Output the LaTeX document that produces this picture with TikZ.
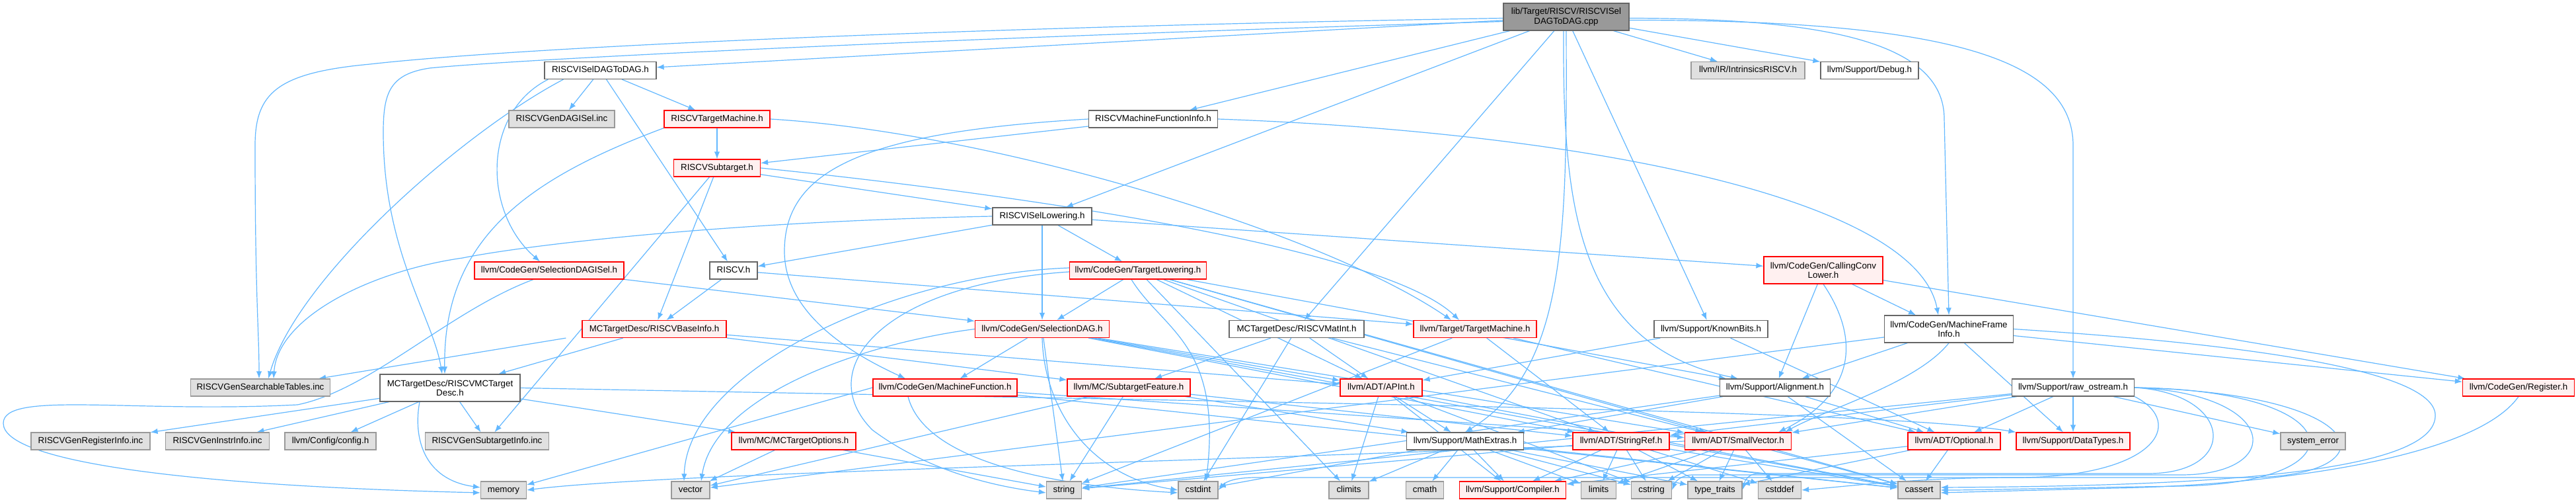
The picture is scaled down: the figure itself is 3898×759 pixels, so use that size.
\documentclass[tikz,border=0pt]{standalone}
\usepackage{fontspec}
\setmainfont{Liberation Sans}
\usetikzlibrary{arrows.meta}
\definecolor{edgec}{HTML}{63B8FF}
\definecolor{grayfill}{HTML}{E0E0E0}
\definecolor{grayline}{HTML}{999999}
\definecolor{nodeline}{HTML}{666666}
\definecolor{redfill}{HTML}{FFF0F0}
\definecolor{rootfill}{HTML}{999999}
\pgfdeclarelayer{bg}
\pgfsetlayers{bg,main}
\tikzset{
 nb0/.style={rectangle, line width=0.6pt, inner xsep=0pt, inner ysep=0pt, font=\fontsize{6.67pt}{7.15pt}\selectfont},
 nb1/.style={nb0, minimum height=13pt, text height=4.9pt, text depth=1.4pt},
 nb2/.style={nb0, minimum height=20.5pt, align=center},
 wn/.style={nb1, draw=nodeline, fill=white},
 wn2/.style={nb2, draw=nodeline, fill=white},
 rn/.style={nb1, draw=red, fill=redfill},
 rn2/.style={nb2, draw=red, fill=redfill},
 gn/.style={nb1, draw=grayline, fill=grayfill},
 rootn/.style={nb2, draw=nodeline, fill=rootfill},
 ed/.style={draw=edgec, line width=0.6pt, -{Latex[length=5.5pt,width=4.2pt]}},
}
\begin{document}
\begin{tikzpicture}[x=0.5pt,y=-0.5pt]
\useasboundingbox (0,0) rectangle (3898,759);
% nodes
\node[rootn, minimum width=95pt] (root) at (2370,25.5) {lib/Target/RISCV/RISCVISel\\DAGToDAG.cpp};
\node[wn, minimum width=84.5pt] (dagh) at (908.5,106.5) {RISCVISelDAGToDAG.h};
\node[gn, minimum width=86pt] (intr) at (2645,106.5) {llvm/IR/IntrinsicsRISCV.h};
\node[wn, minimum width=74pt] (debug) at (2829,106.5) {llvm/Support/Debug.h};
\node[gn, minimum width=80pt] (gendag) at (850,180) {RISCVGenDAGISel.inc};
\node[rn, minimum width=80pt] (rtm) at (1085,180) {RISCVTargetMachine.h};
\node[wn, minimum width=97.5pt] (rmfi) at (1745,180) {RISCVMachineFunctionInfo.h};
\node[rn, minimum width=65.5pt] (rsub) at (1085,254) {RISCVSubtarget.h};
\node[wn, minimum width=75pt] (risl) at (1577,327) {RISCVISelLowering.h};
\node[rn, minimum width=113pt] (sdagisel) at (831,409) {llvm/CodeGen/SelectionDAGISel.h};
\node[wn, minimum width=36pt] (riscvh) at (1110,409) {RISCV.h};
\node[rn, minimum width=103.5pt] (tl) at (1722,409) {llvm/CodeGen/TargetLowering.h};
\node[rn2, minimum width=90pt] (ccl) at (2759,408.5) {llvm/CodeGen/CallingConv\\Lower.h};
\node[rn, minimum width=109pt] (binfo) at (990,497.5) {MCTargetDesc/RISCVBaseInfo.h};
\node[rn, minimum width=101.5pt] (sdag) at (1577,497.5) {llvm/CodeGen/SelectionDAG.h};
\node[wn, minimum width=102pt] (matint) at (1962,497.5) {MCTargetDesc/RISCVMatInt.h};
\node[rn, minimum width=93pt] (tmach) at (2232,497.5) {llvm/Target/TargetMachine.h};
\node[wn, minimum width=86pt] (kb) at (2589,497.5) {llvm/Support/KnownBits.h};
\node[wn2, minimum width=97.5pt] (mfi) at (2949,497.5) {llvm/CodeGen/MachineFrame\\Info.h};
\node[gn, minimum width=105.5pt] (gst) at (394,586) {RISCVGenSearchableTables.inc};
\node[wn2, minimum width=106pt] (mctd) at (681,586.5) {MCTargetDesc/RISCVMCTarget\\Desc.h};
\node[rn, minimum width=109pt] (mfunc) at (1430,586) {llvm/CodeGen/MachineFunction.h};
\node[rn, minimum width=93pt] (stf) at (1708,586) {llvm/MC/SubtargetFeature.h};
\node[rn, minimum width=62pt] (apint) at (2090,586) {llvm/ADT/APInt.h};
\node[wn, minimum width=83.5pt] (align) at (2686,586) {llvm/Support/Alignment.h};
\node[wn, minimum width=92.5pt] (ro) at (3137,586) {llvm/Support/raw\_ostream.h};
\node[rn, minimum width=84.5pt] (reg) at (3811,586) {llvm/CodeGen/Register.h};
\node[gn, minimum width=90pt] (gri) at (137,667) {RISCVGenRegisterInfo.inc};
\node[gn, minimum width=78.5pt] (gii) at (329,667) {RISCVGenInstrInfo.inc};
\node[gn, minimum width=69pt] (cfg) at (500,667) {llvm/Config/config.h};
\node[gn, minimum width=93.5pt] (gsi) at (737,667) {RISCVGenSubtargetInfo.inc};
\node[rn, minimum width=94pt] (mcto) at (1201,667) {llvm/MC/MCTargetOptions.h};
\node[wn, minimum width=88.5pt] (mathx) at (2217,667) {llvm/Support/MathExtras.h};
\node[rn, minimum width=73pt] (sref) at (2453,667) {llvm/ADT/StringRef.h};
\node[rn, minimum width=80.5pt] (svec) at (2630,667) {llvm/ADT/SmallVector.h};
\node[rn, minimum width=70pt] (opt) at (2957,667) {llvm/ADT/Optional.h};
\node[rn, minimum width=86pt] (dtypes) at (3137,667) {llvm/Support/DataTypes.h};
\node[gn, minimum width=49pt] (syserr) at (3500,667) {system\_error};
\node[gn, minimum width=34.5pt] (memory) at (762,741) {memory};
\node[gn, minimum width=29pt] (vector) at (1045,741) {vector};
\node[gn, minimum width=26.5pt] (string) at (1610,741) {string};
\node[gn, minimum width=30pt] (cstdint) at (1813,741) {cstdint};
\node[gn, minimum width=30pt] (climits) at (2041,741) {climits};
\node[gn, minimum width=28.5pt] (cmath) at (2156,741) {cmath};
\node[rn, minimum width=80.5pt] (compiler) at (2289,741) {llvm/Support/Compiler.h};
\node[gn, minimum width=26.5pt] (limits) at (2419,741) {limits};
\node[gn, minimum width=30.5pt] (cstring) at (2499,741) {cstring};
\node[gn, minimum width=41pt] (tt) at (2595,741) {type\_traits};
\node[gn, minimum width=32.5pt] (cstddef) at (2693,741) {cstddef};
\node[gn, minimum width=32pt] (cassert) at (2904,741) {cassert};
% edges
\begin{pgfonlayer}{bg}
\fill[white] (0,0) rectangle (3898,759);
% root
\draw[ed] (root) -- (dagh);
\draw[ed] ([yshift=-1pt]root.west) .. controls (1500,40) and (800,70) .. (560,97) .. controls (420,110) and (386,140) .. (386,220) .. controls (386,450) and (392,500) .. ([xshift=-1pt]gst.north);
\draw[ed] ([yshift=-3.5pt]root.west) .. controls (1500,55) and (800,88) .. (650,103) .. controls (590,112) and (580,140) .. (580,200) .. controls (580,380) and (655,480) .. ([xshift=-6pt]mctd.north);
\draw[ed] (root) -- (rmfi);
\draw[ed] (root) -- (risl);
\draw[ed] (root) -- (matint);
\draw[ed] (root.south) .. controls (2371,350) and (2371,560) .. (mathx.north);
\draw[ed] ([xshift=-2pt]root.south) .. controls (2365,300) and (2380,520) .. ([xshift=-28pt]align.north);
\draw[ed] (root) -- (kb);
\draw[ed] (root) -- (intr);
\draw[ed] (root) -- (debug);
\draw[ed] ([yshift=-1pt]root.east) .. controls (2750,28) and (2942,60) .. (2942,180) -- (mfi.north);
\draw[ed] ([yshift=-2.5pt]root.east) .. controls (2950,30) and (3137,90) .. (3137,220) -- (ro.north);
% dagh
\draw[ed] ([xshift=-28pt]dagh.south) .. controls (700,200) and (450,420) .. ([xshift=6pt]gst.north);
\draw[ed] ([xshift=3pt]dagh.south west) .. controls (730,170) and (730,320) .. ([xshift=-7pt]sdagisel.north);
\draw[ed] (dagh) -- (gendag);
\draw[ed] (dagh) -- (riscvh);
\draw[ed] (dagh) -- (rtm);
% rtm
\draw[ed] (rtm) -- (rsub);
\draw[ed] (rtm.east) .. controls (1500,200) and (2000,350) .. ([xshift=-18pt]tmach.north);
\draw[ed] (rtm.south west) .. controls (800,270) and (670,360) .. ([xshift=-4pt]mctd.north);
% rsub
\draw[ed] (rsub) -- (gsi);
\draw[ed] (rsub) -- (binfo);
\draw[ed] (rsub) -- (risl);
\draw[ed] (rsub.east) .. controls (1600,300) and (2100,380) .. ([xshift=-12pt]tmach.north);
% rmfi
\draw[ed] (rmfi) -- (rsub);
\draw[ed] (rmfi.west) .. controls (1300,200) and (1187,260) .. (1187,380) .. controls (1187,480) and (1300,540) .. ([xshift=-30pt]mfunc.north);
\draw[ed] (rmfi.east) .. controls (2400,200) and (2900,300) .. ([xshift=-8pt]mfi.north);
% risl
\draw[ed] (risl) -- (riscvh);
\draw[ed] (risl.west) .. controls (1100,335) and (800,370) .. (700,390) .. controls (560,410) and (420,480) .. ([xshift=10pt]gst.north);
\draw[ed] (risl) -- (ccl);
\draw[ed] (risl) -- (sdag);
\draw[ed] (risl) -- (tl);
% riscvh
\draw[ed] (riscvh) -- (binfo);
\draw[ed] (riscvh) -- (tmach);
% sdagisel
\draw[ed] (sdagisel) -- (sdag);
\draw[ed] ([xshift=-12pt]sdagisel.south) .. controls (680,470) and (560,590) .. (450,612) .. controls (200,625) and (5,590) .. (5,640) .. controls (5,700) and (300,735) .. ([yshift=-2pt]memory.west);
% tl
\draw[ed] (tl) -- (sdag);
\draw[ed] ([xshift=-5pt]tl.south) .. controls (1760,500) and (1850,520) .. ([xshift=6pt]cstdint.north);
\draw[ed] ([yshift=-1pt]tl.west) .. controls (1330,430) and (1230,560) .. (1320,650) .. controls (1400,710) and (1500,735) .. ([yshift=-2pt]string.west);
\draw[ed] ([yshift=2pt]tl.west) .. controls (1350,415) and (1040,560) .. ([xshift=-5pt]vector.north);
\draw[ed] (tl) -- (apint);
\draw[ed] (tl) -- (svec);
\draw[ed] (tl) -- (sref);
\draw[ed] (tl) -- (align);
\draw[ed] (tl) -- (cassert);
\draw[ed] (tl) -- (climits);
% binfo
\draw[ed] (binfo) -- (mctd);
\draw[ed] ([xshift=-12pt]binfo.south west) -- ([xshift=-9pt]gst.north east);
\draw[ed] (binfo) -- (stf);
\draw[ed] (binfo) -- (apint);
% mctd
\draw[ed] (mctd) -- (gri);
\draw[ed] (mctd) -- (gii);
\draw[ed] (mctd) -- (cfg);
\draw[ed] (mctd) -- (gsi);
\draw[ed] ([xshift=-23pt]mctd.south) .. controls (625,660) and (640,725) .. ([yshift=2pt]memory.west);
\draw[ed] (mctd) -- (mcto);
\draw[ed] (mctd.east) .. controls (2000,610) and (2850,620) .. (dtypes.north west);
% mcto
\draw[ed] (mcto) -- (vector);
\draw[ed] (mcto) -- (string);
% sdag
\draw[ed] (sdag) -- (mfunc);
\draw[ed] (sdag) -- (apint);
\draw[ed] (sdag) -- (svec);
\draw[ed] (sdag) -- (sref);
\draw[ed] (sdag) -- (cassert);
\draw[ed] (sdag.south) .. controls (1580,620) and (1650,720) .. (cstdint.west);
\draw[ed] (sdag) -- (string);
\draw[ed] (sdag.west) .. controls (1300,520) and (1080,600) .. ([xshift=8pt]vector.north);
% mfunc
\draw[ed] (mfunc.west) -- ([yshift=4pt]memory.east);
\draw[ed] (mfunc) -- (svec);
\draw[ed] (mfunc) -- (cassert);
\draw[ed] ([xshift=-28pt]mfunc.south) .. controls (1400,700) and (1600,735) .. ([yshift=-2pt]cstdint.west);
% stf
\draw[ed] (stf) -- (string);
\draw[ed] (stf) -- (vector);
\draw[ed] (stf) -- (sref);
\draw[ed] (stf) -- (mathx);
% matint
\draw[ed] (matint) -- (apint);
\draw[ed] (matint) -- (svec);
\draw[ed] (matint) -- (stf);
\draw[ed] (matint) -- (cstdint);
% tmach
\draw[ed] (tmach) -- (string);
\draw[ed] (tmach) -- (sref);
\draw[ed] (tmach) -- (opt);
% kb
\draw[ed] (kb) -- (apint);
\draw[ed] (kb) -- (opt);
% apint
\draw[ed] (apint) -- (climits);
\draw[ed] (apint) -- (compiler);
\draw[ed] (apint) -- (mathx);
\draw[ed] (apint) -- (cassert);
\draw[ed] (apint) -- (cstring);
% mathx
\draw[ed] (mathx) -- (compiler);
\draw[ed] (mathx) -- (cassert);
\draw[ed] (mathx) -- (climits);
\draw[ed] (mathx) -- (cmath);
\draw[ed] (mathx) -- (cstdint);
\draw[ed] (mathx) -- (cstring);
\draw[ed] (mathx) -- (limits);
\draw[ed] (mathx) -- (tt);
% sref
\draw[ed] (sref) -- (compiler);
\draw[ed] (sref) -- (cassert);
\draw[ed] (sref) -- (cstddef);
\draw[ed] (sref) -- (cstring);
\draw[ed] (sref) -- (limits);
\draw[ed] (sref) -- (string);
\draw[ed] (sref) -- (tt);
% svec
\draw[ed] (svec) -- (compiler);
\draw[ed] (svec) -- (cassert);
\draw[ed] (svec) -- (cstddef);
\draw[ed] (svec) -- (cstring);
\draw[ed] (svec) -- (limits);
\draw[ed] (svec) -- (tt);
\draw[ed] (svec.west) .. controls (1800,700) and (1000,715) .. (memory.east);
% ccl
\draw[ed] (ccl) -- (align);
\draw[ed] (ccl.south) .. controls (2820,520) and (2800,600) .. ([xshift=-10pt]svec.north east);
\draw[ed] (ccl) -- ([xshift=-25pt]mfi.north);
\draw[ed] (ccl) -- (reg);
% mfi
\draw[ed] (mfi) -- (align);
\draw[ed] (mfi.south) .. controls (2900,580) and (2760,620) .. ([xshift=-5pt]svec.north east);
\draw[ed] (mfi) -- (dtypes);
\draw[ed] (mfi) -- (reg);
\draw[ed] (mfi) -- (vector);
\draw[ed] (mfi.east) .. controls (3400,520) and (3690,560) .. (3685,630) .. controls (3680,720) and (3300,735) .. ([yshift=2pt]cassert.east);
% align
\draw[ed] (align) -- (mathx);
\draw[ed] (align) -- (opt);
\draw[ed] (align) -- (cassert);
\draw[ed] (align) -- (string);
% ro
\draw[ed] (ro) -- (svec);
\draw[ed] (ro) -- (sref);
\draw[ed] (ro) -- (dtypes);
\draw[ed] (ro) -- (opt);
\draw[ed] (ro) -- (syserr);
\draw[ed] (ro) -- (string);
\draw[ed] (ro.south east) .. controls (3310,640) and (3260,722) .. (3050,722) .. controls (2900,722) and (2800,735) .. (cstddef.east);
\draw[ed] (ro.east) .. controls (3380,595) and (3390,716) .. (3250,716) -- (2660,716) .. controls (2645,716) and (2640,728) .. (tt.east);
\draw[ed] (ro.east) .. controls (3450,595) and (3460,718) .. (3300,718) -- (2560,718) .. controls (2545,718) and (2535,728) .. (cstring.east);
\draw[ed] (ro.east) .. controls (3600,595) and (3620,722) .. (3400,722) -- (1900,722) .. controls (1870,722) and (1855,728) .. (cstdint.east);
\draw[ed] (ro.east) .. controls (3560,590) and (3580,730) .. (3300,735) .. controls (3100,738) and (3000,741) .. (cassert.east);
% reg
\draw[ed] (reg.south) .. controls (3740,700) and (3400,735) .. (3200,738) -- ([yshift=-2pt]cassert.east);
% opt
\draw[ed] (opt) -- (cassert);
\draw[ed] (opt) -- (compiler);
\draw[ed] (opt) -- (tt);
\end{pgfonlayer}
\end{tikzpicture}
\end{document}
